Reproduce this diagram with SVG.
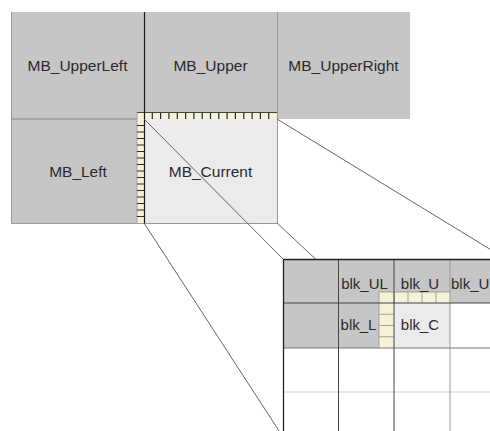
<svg xmlns="http://www.w3.org/2000/svg" width="490" height="431" viewBox="0 0 490 431">
<style>
.g{fill:#c6c6c6}
.c{fill:#ebebeb}
.t{font-family:"Liberation Sans",Arial,sans-serif;font-size:15.5px;fill:#2a2a2a;text-anchor:middle}
.s{font-family:"Liberation Sans",Arial,sans-serif;font-size:15px;fill:#2a2a2a;text-anchor:middle}
.ln{stroke:#555;stroke-width:0.9;fill:none}
.strip{fill:#f5f2d8}
.tick{stroke:#2a2a2a;stroke-width:1.2;fill:none}
.tk2{stroke:#999;stroke-width:0.9;fill:none}
</style>
<rect width="490" height="431" fill="#fff"/>
<g id="MB_UpperLeft"><rect class="g" x="11" y="12" width="133" height="107"/><text class="t" x="77.5" y="71">MB_UpperLeft</text></g>
<g id="MB_Upper"><rect class="g" x="144" y="12" width="133" height="107"/><text class="t" x="210.5" y="71">MB_Upper</text></g>
<g id="MB_UpperRight"><rect class="g" x="277" y="12" width="133" height="107"/><text class="t" x="343.5" y="71">MB_UpperRight</text></g>
<g id="MB_Left"><rect class="g" x="11" y="119" width="133" height="104"/><text class="t" x="78" y="177">MB_Left</text></g>
<g id="MB_Current"><rect class="c" x="144" y="119" width="133" height="104"/><text class="t" x="210.5" y="177">MB_Current</text></g>
<g id="grid_lines_top">
<path d="M11.5 12V223.5H277.5V12" stroke="#9a9a9a" stroke-width="1" fill="none"/>
<path d="M11 119H137" stroke="#888" stroke-width="1"/>
</g>
<g id="MB_edge_pixels">
<rect class="strip" x="137" y="112.5" width="140" height="6.5"/>
<rect class="strip" x="137" y="119" width="7" height="104"/>
<path d="M137 112.5H277" stroke="#444" stroke-width="1"/>
<path d="M137 112.5V223" stroke="#999" stroke-width="0.8"/>
<path class="tick" d="M152.3 112.5V119M160.6 112.5V119M168.9 112.5V119M177.3 112.5V119M185.6 112.5V119M193.9 112.5V119M202.2 112.5V119M210.5 112.5V119M218.8 112.5V119M227.1 112.5V119M235.4 112.5V119M243.8 112.5V119M252.1 112.5V119M260.4 112.5V119M268.7 112.5V119"/>
<path class="tick" d="M137 125.5H144M137 132H144M137 138.5H144M137 145H144M137 151.5H144M137 158H144M137 164.5H144M137 171H144M137 177.5H144M137 184H144M137 190.5H144M137 197H144M137 203.5H144M137 210H144M137 216.5H144"/>
<path d="M144.5 12V223.5" stroke="#1a1a1a" stroke-width="1.2"/>
</g>
<g id="connectors">
<path class="ln" d="M144 119L283 259"/>
<path class="ln" d="M144 223L283 437"/>
<path class="ln" d="M277 119L506 259"/>
<path class="ln" d="M277 223L506 437"/>
</g>
<g id="zoomed_grid">
<rect x="283" y="259" width="223" height="178" fill="#fff"/>
<rect class="g" x="283" y="259" width="223" height="44"/>
<rect class="g" x="283" y="303" width="111" height="45"/>
<rect class="c" x="394" y="303" width="56" height="45"/>
<rect class="strip" x="379" y="292" width="71" height="11"/>
<rect class="strip" x="379" y="303" width="15" height="45"/>
<path class="tk2" d="M379 292V348M394 292V303M408 292V303M422 292V303M436 292V303M379 314.25H394M379 325.5H394M379 336.75H394M379 292H450"/>
<path d="M283 392H506" stroke="#cfcfcf" stroke-width="1"/>
<path d="M450 259V437" stroke="#9a9a9a" stroke-width="1"/>
<path d="M283 348H506" stroke="#777" stroke-width="1"/>
<path d="M283 303H506M338.5 259V437M394 259V437" stroke="#444" stroke-width="1"/>
<path d="M283.5 437V259.5H506" stroke="#222" stroke-width="1.3" fill="none"/>
</g>
<g id="blk_UL"><text class="s" x="364.5" y="288.5">blk_UL</text></g>
<g id="blk_U"><text class="s" x="420" y="288.5">blk_U</text></g>
<g id="blk_UR"><text class="s" x="451" y="288.5" style="text-anchor:start">blk_U</text></g>
<g id="blk_L"><text class="s" x="358.5" y="329.5">blk_L</text></g>
<g id="blk_C"><text class="s" x="420" y="329.5">blk_C</text></g>
</svg>
